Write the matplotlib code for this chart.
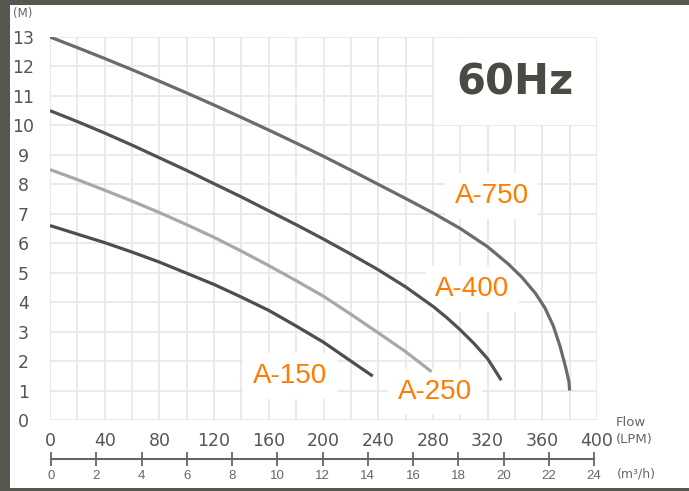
import matplotlib
matplotlib.use('Agg')
import matplotlib.pyplot as plt
from matplotlib.patches import Rectangle

# ---- data (flow in LPM, head in M) ----
lpm_750 = [0, 20, 40, 60, 80, 100, 120, 140, 160, 180, 200, 220, 240, 260, 280, 300,
           320, 335, 345, 355, 362, 368, 373, 377, 379.5, 380]
m_750 = [13.0, 12.64, 12.27, 11.89, 11.5, 11.1, 10.69, 10.27, 9.84, 9.4, 8.95, 8.48, 8.0,
         7.52, 7.03, 6.5, 5.88, 5.3, 4.85, 4.3, 3.8, 3.2, 2.5, 1.8, 1.3, 1.0]

lpm_400 = [0, 20, 40, 60, 80, 100, 120, 140, 160, 180, 200, 220, 240, 260, 280, 290,
           300, 310, 320, 330]
m_400 = [10.5, 10.13, 9.74, 9.33, 8.9, 8.47, 8.02, 7.57, 7.1, 6.63, 6.14, 5.63, 5.1,
         4.52, 3.86, 3.48, 3.06, 2.6, 2.08, 1.35]

lpm_250 = [0, 20, 40, 60, 80, 100, 120, 140, 160, 180, 200, 220, 240, 260, 279]
m_250 = [8.5, 8.16, 7.8, 7.43, 7.04, 6.63, 6.2, 5.73, 5.24, 4.73, 4.2, 3.59, 2.96, 2.32, 1.64]

lpm_150 = [0, 20, 40, 60, 80, 100, 120, 140, 160, 180, 200, 220, 236]
m_150 = [6.6, 6.31, 6.02, 5.7, 5.36, 4.98, 4.6, 4.17, 3.72, 3.19, 2.64, 2.0, 1.49]

x_ticks = [0, 40, 80, 120, 160, 200, 240, 280, 320, 360, 400]
y_ticks = list(range(0, 14))
m3h_ticks = [0, 2, 4, 6, 8, 10, 12, 14, 16, 18, 20, 22, 24]

labels = ['A-750', 'A-400', 'A-150', 'A-250']
label_x = [323, 309, 175.5, 281.5]
label_y = [7.6, 4.44, 1.5, 0.96]

W, H = 689, 491
fig = plt.figure(figsize=(W / 100, H / 100), dpi=100)
fig.patch.set_facecolor('#57564f')
fig.add_artist(Rectangle((10 / W, 3 / H), 1 - 10 / W, 1 - 8 / H, transform=fig.transFigure,
                         facecolor='white', edgecolor='none', zorder=0))

ax = fig.add_axes([50 / W, (H - 420) / H, 547 / W, 383 / H])
ax.set_facecolor('none')
ax.set_xlim(0, 400)
ax.set_ylim(0, 13)
for s in ax.spines.values():
    s.set_visible(False)

grid_c = '#e8e8e8'
for gx in range(0, 401, 20):
    ax.axvline(gx, color=grid_c, lw=1.3, zorder=1)
for gy in range(0, 14):
    ax.axhline(gy, color=grid_c, lw=1.3, zorder=1)

# 60Hz box (white, covering grid)
ax.add_patch(Rectangle((281, 10.03), 118.5, 2.94, facecolor='white', edgecolor='none', zorder=1.5))
ax.text(340, 11.45, '60Hz', fontsize=30, fontweight='bold', family='DejaVu Sans',
        color='#4a4a44', ha='center', va='center', zorder=2)

line_kw = dict(lw=2.3, solid_capstyle='butt', solid_joinstyle='round', zorder=3)
ax.plot(lpm_750, m_750, color='#6c6c66', **line_kw)
ax.plot(lpm_400, m_400, color='#52524d', **line_kw)
ax.plot(lpm_250, m_250, color='#a8a8a5', **line_kw)
ax.plot(lpm_150, m_150, color='#4e4e49', **line_kw)

for t, lx, ly in zip(labels, label_x, label_y):
    ax.text(lx, ly, t, fontsize=20, family='Liberation Sans', color='#ff7c00',
            ha='center', va='center', zorder=2.5,
            bbox=dict(boxstyle='square,pad=0.35', facecolor='white', edgecolor='none'))

tick_c = '#555555'
ax.set_xticks(x_ticks)
ax.set_yticks(y_ticks)
ax.tick_params(axis='both', length=0, labelsize=12.5, labelcolor=tick_c)
ax.tick_params(axis='x', pad=9)
ax.tick_params(axis='y', pad=19)
for lab in ax.get_yticklabels():
    lab.set_horizontalalignment('center')
for lab in ax.get_xticklabels() + ax.get_yticklabels():
    lab.set_family('DejaVu Sans')

fig.text(13 / W, 1 - 13 / H, '(M)', fontsize=8.5, color='#666666', va='center', ha='left')
fig.text(616 / W, 1 - 422 / H, 'Flow', fontsize=9.5, color='#666666', va='center', ha='left')
fig.text(616 / W, 1 - 440 / H, '(LPM)', fontsize=9.5, color='#666666', va='center', ha='left')
fig.text(617 / W, 1 - 474 / H, '(m\u00b3/h)', fontsize=9, color='#666666', va='center', ha='left')

# secondary flow scale in m3/h
ax2 = fig.add_axes([51 / W, (H - 470) / H, 543 / W, 22 / H])
ax2.set_facecolor('none')
ax2.set_xlim(0, 24)
ax2.set_ylim(-1, 1)
for k, s in ax2.spines.items():
    s.set_visible(k == 'bottom')
ax2.spines['bottom'].set_position(('data', 0))
ax2.spines['bottom'].set_color('#666666')
ax2.spines['bottom'].set_linewidth(1.5)
ax2.set_yticks([])
ax2.set_xticks(m3h_ticks)
ax2.tick_params(axis='x', direction='inout', length=10, width=1.3, color='#666666',
                labelsize=9.5, labelcolor='#666666', pad=3)
for lab in ax2.get_xticklabels():
    lab.set_family('Liberation Sans')

fig.savefig('out.png', dpi=100, facecolor=fig.get_facecolor())
